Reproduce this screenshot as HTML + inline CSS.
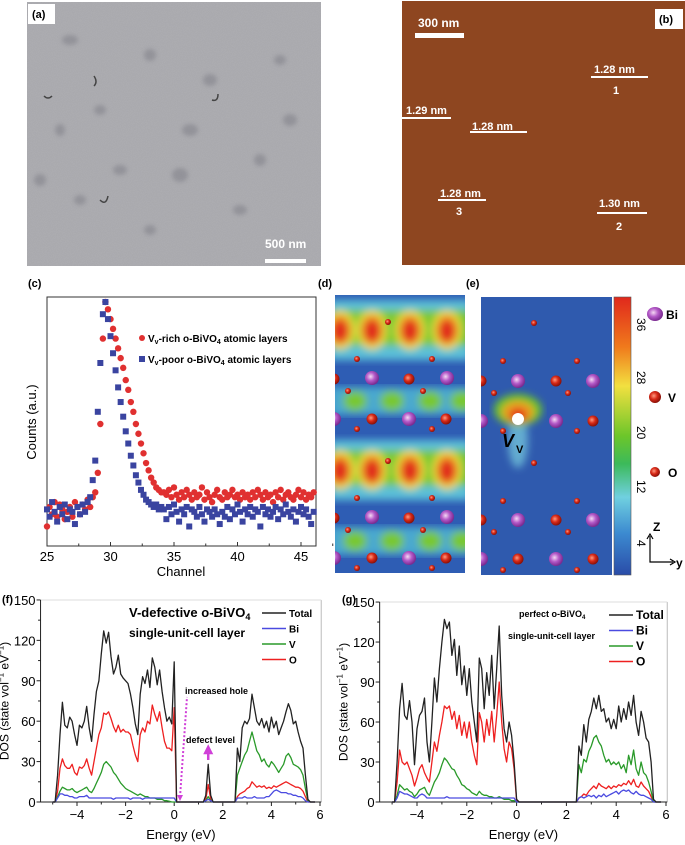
<!DOCTYPE html>
<html><head><meta charset="utf-8"><style>
html,body{margin:0;padding:0;background:#fff;}
svg{display:block;font-family:"Liberation Sans",sans-serif;}
</style></head><body>
<svg id="fig" width="685" height="845" viewBox="0 0 685 845" xmlns="http://www.w3.org/2000/svg">
<defs>
  <filter id="noiseA" x="0" y="0" width="100%" height="100%">
    <feTurbulence type="fractalNoise" baseFrequency="1.2" numOctaves="2" seed="3" result="n"/>
    <feColorMatrix type="matrix" values="0 0 0 0 0.45  0 0 0 0 0.45  0 0 0 0 0.48  0 0 0 0.9 -0.2" />
  </filter>
  <filter id="blur4"><feGaussianBlur stdDeviation="4"/></filter>
  <filter id="blur2"><feGaussianBlur stdDeviation="2"/></filter>
  <radialGradient id="bi" cx="0.4" cy="0.4" r="0.6"><stop offset="0" stop-color="#f4d8f4"/><stop offset="0.5" stop-color="#b45ac8"/><stop offset="1" stop-color="#7a2a90"/></radialGradient>
  <radialGradient id="vo" cx="0.4" cy="0.4" r="0.6"><stop offset="0" stop-color="#ff9a80"/><stop offset="0.5" stop-color="#d82a18"/><stop offset="1" stop-color="#8a1008"/></radialGradient>
  <linearGradient id="cbar" x1="0" y1="0" x2="0" y2="1">
    <stop offset="0" stop-color="#e0281c"/><stop offset="0.18" stop-color="#f07a1c"/><stop offset="0.32" stop-color="#f2e040"/>
    <stop offset="0.5" stop-color="#6cc62a"/><stop offset="0.6" stop-color="#3cba5a"/><stop offset="0.72" stop-color="#70d0e0"/>
    <stop offset="0.85" stop-color="#3c8ad0"/><stop offset="1" stop-color="#2a4ca8"/>
  </linearGradient>
  <clipPath id="clipD"><rect x="335" y="295" width="130" height="278"/></clipPath>
  <clipPath id="clipE"><rect x="481" y="297" width="131" height="278"/></clipPath>
</defs>

<!-- Panel a -->
<g>
  <rect x="27" y="2" width="294" height="264" fill="#a8a8ac"/>
  <rect x="27" y="2" width="294" height="264" filter="url(#noiseA)"/>
  <g fill="#7c7c84" opacity="0.5" filter="url(#blur2)">
    <ellipse cx="70" cy="40" rx="8" ry="5"/><ellipse cx="150" cy="55" rx="6" ry="6"/><ellipse cx="210" cy="80" rx="7" ry="6"/>
    <ellipse cx="100" cy="110" rx="6" ry="5"/><ellipse cx="60" cy="130" rx="5" ry="6"/><ellipse cx="190" cy="130" rx="8" ry="6"/>
    <ellipse cx="120" cy="170" rx="7" ry="5"/><ellipse cx="180" cy="175" rx="8" ry="7"/><ellipse cx="260" cy="160" rx="6" ry="6"/>
    <ellipse cx="290" cy="120" rx="7" ry="6"/><ellipse cx="80" cy="200" rx="6" ry="5"/><ellipse cx="240" cy="210" rx="7" ry="5"/>
    <ellipse cx="150" cy="230" rx="6" ry="5"/><ellipse cx="280" cy="60" rx="6" ry="5"/><ellipse cx="40" cy="180" rx="6" ry="6"/>
  </g>
  <g fill="none" stroke="#444" stroke-width="1.5">
    <path d="M44 96 q4 4 8 0"/><path d="M94 76 q4 6 0 10"/><path d="M100 200 q6 6 8 -4"/><path d="M212 100 q6 2 6 -6"/>
  </g>
  <rect x="28" y="4" width="27" height="20" fill="#fff"/>
  <text x="32" y="18" font-size="11" font-weight="bold">(a)</text>
  <text x="265" y="248" font-size="12" font-weight="bold" fill="#fff">500 nm</text>
  <rect x="265" y="259" width="41" height="4" fill="#fff"/>
</g>

<!-- Panel b -->
<g font-weight="bold" fill="#fff">
  <rect x="402" y="1" width="283" height="264" fill="#8e4620"/>
  <rect x="655" y="9" width="28" height="20" fill="#fff"/>
  <text x="659" y="23" font-size="11" fill="#000">(b)</text>
  <text x="418" y="27" font-size="12">300 nm</text>
  <rect x="415" y="33" width="49" height="5"/>
  <text x="594" y="73" font-size="11">1.28 nm</text>
  <rect x="591" y="76" width="57" height="2"/><text x="613" y="94" font-size="11">1</text>
  <text x="406" y="114" font-size="11">1.29 nm</text>
  <rect x="402" y="117" width="49" height="2"/>
  <text x="472" y="130" font-size="11">1.28 nm</text>
  <rect x="470" y="131" width="57" height="2"/>
  <text x="440" y="197" font-size="11">1.28 nm</text>
  <rect x="438" y="199" width="48" height="2"/><text x="456" y="215" font-size="11">3</text>
  <text x="599" y="207" font-size="11">1.30 nm</text>
  <rect x="597" y="212" width="50" height="2"/><text x="616" y="230" font-size="11">2</text>
</g>

<!-- Panel c -->
<g id="panelC">
  <text x="28" y="287" font-size="11" font-weight="bold">(c)</text>
  <rect x="47" y="297" width="269" height="249" fill="none" stroke="#333" stroke-width="1"/>
  <text x="181" y="576" font-size="13" text-anchor="middle">Channel</text>
  <text transform="translate(36,422) rotate(-90)" font-size="13" text-anchor="middle">Counts (a.u.)</text>
  <g id="cTicks"></g><g id="cPts"></g>
  <circle cx="142" cy="338" r="3" fill="#e03030"/>
  <text x="148" y="342" font-size="10" font-weight="bold">V<tspan font-size="7" dy="2">v</tspan><tspan dy="-2">-rich o-BiVO</tspan><tspan font-size="7" dy="2">4</tspan><tspan dy="-2"> atomic layers</tspan></text>
  <rect x="139" y="356" width="6" height="6" fill="#3a44a0"/>
  <text x="148" y="363" font-size="10" font-weight="bold">V<tspan font-size="7" dy="2">v</tspan><tspan dy="-2">-poor o-BiVO</tspan><tspan font-size="7" dy="2">4</tspan><tspan dy="-2"> atomic layers</tspan></text>
</g>

<!-- Panel d -->
<g>
  <text x="318" y="287" font-size="11" font-weight="bold">(d)</text>
  <g clip-path="url(#clipD)">
    <rect x="335" y="295" width="130" height="278" fill="#2e5db4"/>
    <g id="dField"></g><g id="dAtoms"></g>
  </g>
</g>

<!-- Panel e -->
<g>
  <text x="466" y="287" font-size="11" font-weight="bold">(e)</text>
  <g clip-path="url(#clipE)">
    <rect x="481" y="297" width="131" height="278" fill="#2f5aae"/>
    <g filter="url(#blur4)">
      <ellipse cx="518" cy="440" rx="10" ry="28" fill="#7ad0e0" opacity="0.7"/>
      <ellipse cx="518" cy="410" rx="24" ry="16" fill="#6cc62a"/>
      <ellipse cx="518" cy="412" rx="16" ry="11" fill="#f0a020"/>
      <ellipse cx="518" cy="415" rx="9" ry="7" fill="#e02a1a"/>
    </g>
    <circle cx="518" cy="419" r="6" fill="#fff"/>
    <g id="eAtoms"></g>
  </g>
  <text x="502" y="447" font-size="18" font-weight="bold" font-style="italic">V</text>
  <text x="516" y="453" font-size="11" font-weight="bold">V</text>
  <rect x="614" y="297" width="17" height="278" fill="url(#cbar)" stroke="#555" stroke-width="0.6"/>
  <g font-size="12">
    <text transform="translate(637,318) rotate(90)">36</text>
    <text transform="translate(637,371) rotate(90)">28</text>
    <text transform="translate(637,426) rotate(90)">20</text>
    <text transform="translate(637,480) rotate(90)">12</text>
    <text transform="translate(637,540) rotate(90)">4</text>
  </g>
  <g>
    <ellipse cx="655" cy="314" rx="8" ry="7" fill="url(#bi)"/><text x="666" y="319" font-size="12" font-weight="bold">Bi</text>
    <ellipse cx="655" cy="397" rx="6" ry="6" fill="url(#vo)"/><text x="668" y="402" font-size="12" font-weight="bold">V</text>
    <ellipse cx="655" cy="472" rx="5" ry="5" fill="url(#vo)"/><text x="668" y="477" font-size="12" font-weight="bold">O</text>
  </g>
  <g stroke="#000" stroke-width="1.2" fill="none">
    <path d="M650 536 L650 562 L673 562"/><path d="M647 539 L650 534 L653 539"/><path d="M670 559 L675 562 L670 565"/>
  </g>
  <text x="653" y="531" font-size="12" font-weight="bold">Z</text>
  <text x="676" y="567" font-size="12" font-weight="bold">y</text>
</g>

<g id="panelF"></g>
<g id="panelG"></g>
</svg>

<script>
// ---------- Panel (c) data ----------
const cChannels = [25,25.2,25.4,25.6,25.8,26,26.2,26.4,26.6,26.8,27,27.2,27.4,27.6,27.8,28,28.2,28.4,28.6,28.8,
 29,29.2,29.4,29.6,29.8,30,30.2,30.4,30.6,30.8,31,31.2,31.4,31.6,31.8,32,32.2,32.4,32.6,32.8,33,33.2,33.4,33.6,33.8,34,
 34.2,34.4,34.6,34.8,35,35.2,35.4,35.6,35.8,36,36.2,36.4,36.6,36.8,37,37.2,37.4,37.6,37.8,38,38.2,38.4,38.6,38.8,39,
 39.2,39.4,39.6,39.8,40,40.2,40.4,40.6,40.8,41,41.2,41.4,41.6,41.8,42,42.2,42.4,42.6,42.8,43,43.2,43.4,43.6,43.8,44,
 44.2,44.4,44.6,44.8,45,45.2,45.4,45.6,45.8,46];
const cCountsRich = [8,16,13,18,12,17,15,11,14,16,12,18,16,13,17,15,19,16,20,22,
 30,50,85,100,97,93,89,85,81,77,73,68,64,59,55,50,46,42,38,34,31,28,26,24,23,22,
 22,21,23,20,24,21,19,22,20,23,21,19,22,20,21,24,19,22,20,18,21,23,20,19,22,20,21,23,20,21,
 19,22,20,21,19,22,20,23,21,19,22,20,21,18,22,20,23,19,21,22,20,19,21,23,20,22,19,21,20,22];
const cCountsPoor = [15,12,18,14,10,16,13,17,11,15,14,9,16,13,17,14,18,20,27,35,
 55,75,95,100,93,86,79,72,65,59,53,47,42,37,33,29,26,23,21,19,18,17,16,17,15,16,
 15,11,16,13,17,14,10,15,13,16,8,15,14,12,16,13,10,15,14,12,15,13,9,14,12,16,11,15,13,17,
 14,10,15,13,16,12,15,14,8,16,13,15,12,14,16,11,15,13,17,14,12,15,10,14,16,13,15,12,9,14];
const cTickVals = [25,30,35,40,45];

// ---------- Panel (f)/(g) data (energy grid -5.0 .. 5.8 eV, step 0.1) ----------
const dosEnergy = [-5.0,-4.9,-4.8,-4.7,-4.6,-4.5,-4.4,-4.3,-4.2,-4.1,
 -4.0,-3.9,-3.8,-3.7,-3.6,-3.5,-3.4,-3.3,-3.2,-3.1,
 -3.0,-2.9,-2.8,-2.7,-2.6,-2.5,-2.4,-2.3,-2.2,-2.1,
 -2.0,-1.9,-1.8,-1.7,-1.6,-1.5,-1.4,-1.3,-1.2,-1.1,
 -1.0,-0.9,-0.8,-0.7,-0.6,-0.5,-0.4,-0.3,-0.2,-0.1,
 0.0,0.1,0.2,0.3,0.4,0.5,0.6,0.7,0.8,0.9,
 1.0,1.1,1.2,1.3,1.4,1.5,1.6,1.7,1.8,1.9,
 2.0,2.1,2.2,2.3,2.4,2.5,2.6,2.7,2.8,2.9,
 3.0,3.1,3.2,3.3,3.4,3.5,3.6,3.7,3.8,3.9,
 4.0,4.1,4.2,4.3,4.4,4.5,4.6,4.7,4.8,4.9,
 5.0,5.1,5.2,5.3,5.4,5.5,5.6,5.7,5.8];
const fTotal = [0,0,20,50,74,57,55,63,60,50, 42,57,55,60,71,55,45,65,82,90, 110,127,118,126,108,95,100,109,95,92, 90,88,80,70,58,50,80,93,88,98, 85,107,100,87,98,82,70,60,63,58, 104,0,0,0,0,0,0,0,0,0, 0,0,0,5,28,5,0,0,0,0, 0,0,0,0,0,0,40,30,55,60, 58,62,80,70,60,57,62,55,60,52, 63,55,60,50,55,60,67,73,68,58, 60,52,45,40,20,2,0,0,0];
const fO = [0,0,8,25,32,27,25,25,28,22, 20,26,25,27,32,25,20,30,40,50, 55,66,65,67,62,56,52,57,52,54, 52,52,50,42,35,30,50,55,52,60, 58,72,65,60,67,55,45,40,40,38, 70,0,0,0,0,0,0,0,0,0, 0,0,0,2,13,2,0,0,0,0, 0,0,0,0,0,0,4,6,7,8, 10,11,15,13,11,12,11,12,10,11, 10,12,11,12,13,14,15,14,13,12, 11,11,10,8,4,0,0,0,0];
const fV = [0,0,4,8,11,10,9,9,10,8, 7,8,9,10,11,8,7,10,14,18, 22,28,30,28,26,22,20,17,14,12, 10,9,8,7,6,5,6,5,4,4, 3,3,3,2,2,2,1,1,0.5,0, 0,0,0,0,0,0,0,0,0,0, 0,0,0,1,4,1,0,0,0,0, 0,0,0,0,0,0,20,25,30,35, 38,45,52,45,38,35,30,32,28,26, 30,28,25,22,25,28,34,36,33,28, 27,26,24,20,10,1,0,0,0];
const fBi = [0,0,3,6,6,5,5,4,4,3, 3,4,4,4,5,3,3,3,3,3, 3,3,3,3,3,2,3,3,3,3, 3,3,2,3,3,3,3,2,3,3, 3,3,3,3,3,3,3,3,3,3, 3,0,0,0,0,0,0,0,0,0, 0,0,0,1,2,1,0,0,0,0, 0,0,0,0,0,0,3,3,3,4, 3,3,3,4,3,3,3,3,4,4, 6,8,9,8,7,7,7,6,6,5, 5,4,4,3,1,0,0,0,0];
const gTotal = [0,0,30,70,89,65,62,76,60,28, 55,65,68,78,45,30,60,93,75,100, 120,137,130,135,110,122,95,117,88,102, 80,100,75,60,45,108,100,70,97,80, 110,70,100,132,80,55,45,60,50,30, 2,0,0,0,0,0,0,0,0,0, 0,0,0,0,0,0,0,0,0,0, 0,0,0,0,0,42,35,58,45,62, 68,78,70,80,68,70,60,63,55,62, 55,72,60,70,62,75,65,80,60,50, 68,60,48,45,30,2,0,0,0];
const gO = [0,0,15,39,30,28,30,25,20,12, 18,25,28,22,18,15,30,45,38,50, 60,72,70,72,62,68,55,65,50,60, 48,60,45,35,28,67,60,45,62,50, 68,45,65,90,60,40,30,45,40,25, 1,0,0,0,0,0,0,0,0,0, 0,0,0,0,0,0,0,0,0,0, 0,0,0,0,0,3,4,6,5,8, 10,12,10,14,12,11,10,12,10,12, 11,13,12,14,13,16,13,17,12,11, 15,12,10,8,4,0,0,0,0];
const gV = [0,0,5,13,11,9,10,8,7,4, 6,9,10,11,7,5,10,15,18,22, 28,33,31,28,25,24,20,17,13,12, 10,9,7,6,5,8,6,5,5,4, 4,3,3,4,3,2,2,2,1,1, 0,0,0,0,0,0,0,0,0,0, 0,0,0,0,0,0,0,0,0,0, 0,0,0,0,0,28,22,32,30,38, 42,48,50,45,42,35,30,32,28,30, 28,30,25,28,22,35,28,39,25,20, 30,22,20,15,8,0,0,0,0];
const gBi = [0,0,3,8,7,6,6,5,4,3, 3,5,6,5,3,3,3,3,3,3, 3,3,4,3,3,3,3,3,3,3, 3,3,3,3,3,3,3,3,3,3, 3,3,3,3,3,3,3,3,3,3, 0,0,0,0,0,0,0,0,0,0, 0,0,0,0,0,0,0,0,0,0, 0,0,0,0,0,3,4,3,4,5, 4,5,3,5,4,6,4,5,6,7, 8,6,8,9,8,9,7,6,8,6, 5,5,4,3,2,0,0,0,0];
const dosXTicks = [-4,-2,0,2,4,6];
const dosYTicks = [0,30,60,90,120,150];

const NS = "http://www.w3.org/2000/svg";
function mk(tag, attrs, parent){ const e=document.createElementNS(NS,tag); for(const k in attrs) e.setAttribute(k,attrs[k]); if(parent) parent.appendChild(e); return e; }

// ----- Panel c -----
const cx = ch => 47 + (ch-25)*12.7;
const cy = v => 546 - v*2.44;
const cTicks = document.getElementById('cTicks');
cTickVals.forEach(t=>{
  const l = mk('line',{x1:cx(t),x2:cx(t),y1:546,y2:542,stroke:'#333'},cTicks);
  
  
  const tx = mk('text',{x:cx(t),y:561,'font-size':13,'text-anchor':'middle'},cTicks);
  tx.textContent = t;
  
  
  const m = mk('line',{x1:cx(t+2.5),x2:cx(t+2.5),y1:546,y2:543.5,stroke:'#333'},cTicks);
  
  
});
const cPts = document.getElementById('cPts');
cChannels.forEach((c,i)=>{
  const p = mk('circle',{cx:cx(c),cy:cy(cCountsRich[i]),r:3.2,fill:'#e03030'},cPts);
  
  
});
cChannels.forEach((c,i)=>{
  const p = mk('rect',{x:cx(c)-3,y:cy(cCountsPoor[i])-3,width:6,height:6,fill:'#3a44a0'},cPts);
  
  
});

// ----- Panel d field and atoms -----
const dField = document.getElementById('dField');
function dLayer(yc, yp){
  const g = mk('g',{filter:'url(#blur4)'},dField);
  mk('rect',{x:330,y:yc-30,width:140,height:60,fill:'#5cc0d8'},g);
  mk('rect',{x:330,y:yc-20,width:140,height:36,fill:'#78c832'},g);
  [340,372,410,447].forEach(x=>{
    mk('ellipse',{cx:x,cy:yc,rx:15,ry:20,fill:'#e8e040'},g);
    mk('ellipse',{cx:x,cy:yc,rx:11,ry:15,fill:'#f08a20'},g);
    mk('ellipse',{cx:x,cy:yc+1,rx:8,ry:11,fill:'#e02a1a'},g);
  });
  const g2 = mk('g',{filter:'url(#blur4)'},dField);
  mk('rect',{x:330,y:yp-14,width:140,height:28,fill:'#4aa8d0'},g2);
  [355,392,430,462].forEach(x=>{ mk('ellipse',{cx:x,cy:yp,rx:12,ry:10,fill:'#78c832'},g2); });
}
dLayer(330,401); dLayer(470,541);
function atom(parent,x,y,type){
  const r = type==='Bi'?7:(type==='V'?5.5:3);
  const a = mk('ellipse',{cx:x,cy:y,rx:r,ry:r,fill:type==='Bi'?'url(#bi)':'url(#vo)'},parent);
  
  
}
const dAtoms = document.getElementById('dAtoms');
[0,139].forEach(o=>{
  atom(dAtoms,334,379+o,'V'); atom(dAtoms,409,379+o,'V'); atom(dAtoms,372,419+o,'V'); atom(dAtoms,446,419+o,'V');
  atom(dAtoms,372,378+o,'Bi'); atom(dAtoms,447,378+o,'Bi'); atom(dAtoms,334,419+o,'Bi'); atom(dAtoms,409,419+o,'Bi');
  atom(dAtoms,388,322+o,'O'); atom(dAtoms,357,359+o,'O'); atom(dAtoms,432,359+o,'O'); atom(dAtoms,348,391+o,'O');
  atom(dAtoms,423,391+o,'O'); atom(dAtoms,357,429+o,'O'); atom(dAtoms,432,429+o,'O');
});
const eAtoms = document.getElementById('eAtoms');
atom(eAtoms,481,381,'V'); atom(eAtoms,518,381,'Bi'); atom(eAtoms,556,381,'V'); atom(eAtoms,593,381,'Bi');
atom(eAtoms,481,421,'Bi'); atom(eAtoms,556,421,'Bi'); atom(eAtoms,593,421,'V');
atom(eAtoms,481,520,'V'); atom(eAtoms,518,520,'Bi'); atom(eAtoms,556,520,'V'); atom(eAtoms,593,520,'Bi');
atom(eAtoms,481,559,'Bi'); atom(eAtoms,518,559,'V'); atom(eAtoms,556,559,'Bi'); atom(eAtoms,593,559,'V');
[[534,323],[503,361],[577,361],[494,393],[568,393],[503,431],[577,431],[534,463],[503,501],[577,501],[494,532],[568,532],[503,570],[577,570]].forEach(p=>atom(eAtoms,p[0],p[1],'O'));

// ----- DOS panels -----
function dosPanel(gid, x4, pxE, y0, pxU, series, opts){
  const g = document.getElementById(gid);
  const xE = e => x4 + (e+4)*pxE;
  const yV = v => y0 - v*pxU;
  const left = xE(-5.5), right = xE(6.05), top = yV(150);
  mk('line',{x1:right,x2:right,y1:top,y2:y0,stroke:'#bbb'},g);
  mk('line',{x1:left,x2:right,y1:top,y2:top,stroke:'#ddd'},g);
  const ax = mk('path',{d:`M${left} ${top} L${left} ${y0} L${right} ${y0}`,fill:'none',stroke:'#222','stroke-width':1},g);
  
  
  dosXTicks.forEach(t=>{
    mk('line',{x1:xE(t),x2:xE(t),y1:y0,y2:y0+4,stroke:'#222'},g);
    mk('line',{x1:xE(t-1),x2:xE(t-1),y1:y0,y2:y0+2.5,stroke:'#222'},g);
    const tx = mk('text',{x:xE(t),y:y0+17,'font-size':13,'text-anchor':'middle'},g);
    tx.textContent = t<0 ? '\u2212'+(-t) : t;
    
    
  });
  dosYTicks.forEach(t=>{
    mk('line',{x1:left-4,x2:left,y1:yV(t),y2:yV(t),stroke:'#222'},g);
    if(t<150) mk('line',{x1:left-2.5,x2:left,y1:yV(t+15),y2:yV(t+15),stroke:'#222'},g);
    const tx = mk('text',{x:left-5,y:yV(t)+5,'font-size':13,'text-anchor':'end'},g);
    tx.textContent = t;
    
    
  });
  const xt = mk('text',{x:(left+right)/2,y:y0+37,'font-size':13,'text-anchor':'middle'},g);
  xt.textContent = 'Energy (eV)';
  
  
  const yt = mk('text',{transform:`translate(${left-32},${(top+y0)/2}) rotate(-90)`,'font-size':12,'text-anchor':'middle'},g);
  yt.innerHTML = 'DOS (state vol<tspan font-size="8" dy="-5">\u22121</tspan><tspan dy="5"> eV</tspan><tspan font-size="8" dy="-5">\u22121</tspan><tspan dy="5">)</tspan>';
  
  
  series.forEach(s=>{
    let d='';
    dosEnergy.forEach((e,i)=>{ d += (i?'L':'M')+xE(e).toFixed(1)+' '+yV(s.v[i]).toFixed(1)+' '; });
    const p = mk('path',{d:d,fill:'none',stroke:s.c,'stroke-width':1.3,'stroke-linejoin':'round'},g);
    
    
  });
  series.slice().reverse().forEach((s,i)=>{
    const ly = opts.legY + i*opts.legStep;
    const l = mk('line',{x1:opts.legX,x2:opts.legX+24,y1:ly,y2:ly,stroke:s.c,'stroke-width':1.6},g);
    
    
    const t = mk('text',{x:opts.legX+27,y:ly+4,'font-size':opts.legFont,'font-weight':'bold'},g);
    t.textContent = s.n;
    
    
  });
  return {xE,yV};
}
const fAx = dosPanel('panelF',77,24.3,802,1.347,[
  {n:'O',c:'#ee2020',v:fO},{n:'V',c:'#2a9a2a',v:fV},{n:'Bi',c:'#4a4ae0',v:fBi},{n:'Total',c:'#222',v:fTotal}],
  {legX:262,legY:613,legStep:15.5,legFont:10});
const gAx = dosPanel('panelG',417,24.9,802,1.333,[
  {n:'O',c:'#ee2020',v:gO},{n:'V',c:'#2a9a2a',v:gV},{n:'Bi',c:'#4a4ae0',v:gBi},{n:'Total',c:'#222',v:gTotal}],
  {legX:609,legY:615,legStep:15.5,legFont:12});

const pf = document.getElementById('panelF');
function txt(parent,x,y,size,html,name){
  const t = mk('text',{x:x,y:y,'font-size':size,'font-weight':'bold'},parent);
  t.innerHTML = html;
  
  
  return t;
}
txt(pf,2,603,11,'(f)','panel-f-label');
txt(pf,129,617,13,'V-defective o-BiVO<tspan font-size="9" dy="3">4</tspan>','panel-f-title');
txt(pf,129,637,12,'single-unit-cell layer','panel-f-subtitle');
txt(pf,185,694,9,'increased hole','annotation-increased-hole');
txt(pf,186,743,9,'defect level','annotation-defect-level');
const hole = mk('line',{x1:180,y1:797,x2:187,y2:697,stroke:'#d040d8','stroke-width':2,'stroke-dasharray':'2 2'},pf);


mk('path',{d:'M177 795 L183 795 L180 801 Z',fill:'#d040d8'},pf);
const dl = mk('path',{d:`M${fAx.xE(1.4)} 760 L${fAx.xE(1.4)} 752 M${fAx.xE(1.4)-3} 753 L${fAx.xE(1.4)} 747 L${fAx.xE(1.4)+3} 753 Z`,stroke:'#d040d8','stroke-width':2.5,fill:'#d040d8'},pf);



const pg = document.getElementById('panelG');
txt(pg,342,603,11,'(g)','panel-g-label');
txt(pg,519,617,9,'perfect o-BiVO<tspan font-size="6" dy="2">4</tspan>','panel-g-title');
txt(pg,508,639,9,'single-unit-cell layer','panel-g-subtitle');
</script>
</body></html>
